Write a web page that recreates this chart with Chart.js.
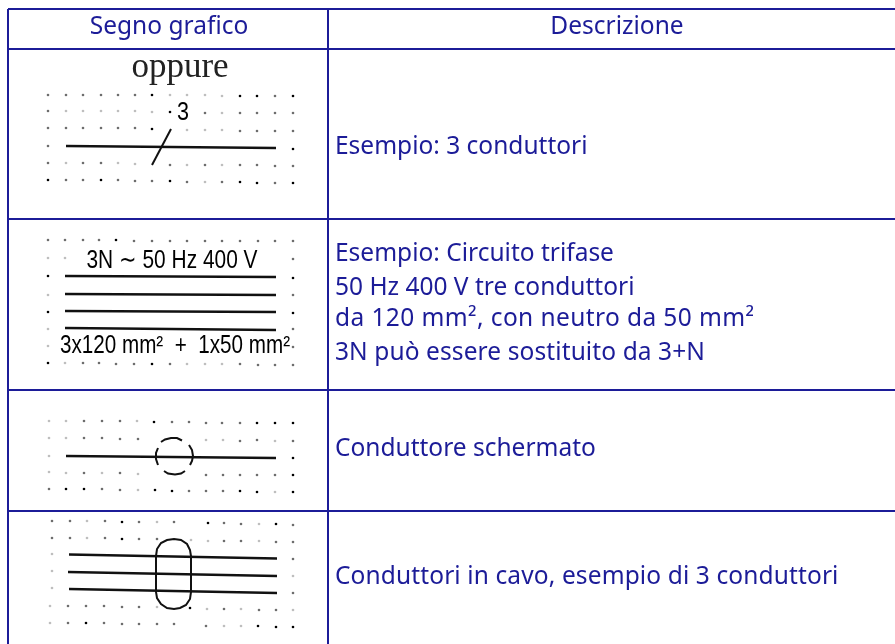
<!DOCTYPE html>
<html><head><meta charset="utf-8">
<style>html,body{margin:0;padding:0;background:#fff}#w{width:895px;height:644px;position:relative}canvas{display:block;filter:blur(.45px)}</style>
<script src="https://cdn.jsdelivr.net/npm/chart.js@4"></script></head>
<body><div id="w"><canvas id="c" width="895" height="644"></canvas></div>
<script>
// table rules
const ruleTop=[[8,9],[895,9]];
const ruleHeader=[[8,49],[895,49]];
const ruleRow1=[[8,219],[895,219]];
const ruleRow2=[[8,390],[895,390]];
const ruleRow3=[[8,511],[895,511]];
const ruleLeft=[[8,9],[8,644]];
const ruleColumn=[[328,9],[328,644]];
// symbol strokes
const wires1=[[66,146],[276,148]];
const slash1=[[152,165],[171,129]];
const wires2a=[[65,276],[276,277]];
const wires2b=[[65,294],[276,295]];
const wires2c=[[65,311],[276,312]];
const wires2d=[[65,328],[276,330]];
const wire3=[[66,456],[276,458]];
const dashTop=[[161,442],[165,439.5],[171,438],[177,438],[182,440.5]];
const dashRight=[[189,445],[192,450],[193,456],[192,461],[190,465]];
const dashBottom=[[164,471],[168,473.5],[175,474.5],[181,473.5],[185,471]];
const dashLeft=[[158,448],[156,453],[156,459],[158,465]];
const wire4a=[[69,554.5],[277,558.5]];
const wire4b=[[68,572],[277,576]];
const wire4c=[[69,589],[277,593]];
const capsule=[[156,556],[157,549],[161,543],[167,540],[174,539],[181,540],[187,544],[190,550],[191,556],[191,592],[190,599],[186,605],[180,608],[174,609],[167,608],[161,604],[157,598],[156,592],[156,556]];
// grid dots [x,y,shade]
const dots1=[[48,95,1],[66,95,1],[83,95,1],[101,95,1],[118,95,1],[135,95,1],[152,95,2],[170,95,0],[187,95,0],[205,95,0],[222,96,0],[240,96,2],[257,96,2],[275,96,1],[293,96,2],
[48,111,1],[66,111,0],[83,111,0],[101,111,0],[118,111,0],[135,111,0],[152,112,0],[170,112,2],[205,113,1],[222,113,0],[240,113,1],[257,113,1],[275,113,1],[293,113,1],
[48,128,1],[66,128,1],[83,128,1],[101,128,1],[118,128,1],[135,128,1],[152,129,2],[187,130,0],[205,130,0],[222,130,0],[240,131,1],[257,131,1],[275,131,1],[293,131,1],
[48,146,1],[293,149,2],
[48,163,1],[66,163,0],[83,163,1],[101,163,1],[118,163,0],[135,164,0],[170,165,1],[187,165,0],[205,165,1],[222,165,0],[240,165,1],[257,165,1],[275,166,1],[293,166,1],
[48,180,2],[66,180,1],[83,180,1],[101,180,2],[118,180,1],[135,181,1],[152,181,1],[170,181,2],[187,182,1],[205,182,0],[222,182,1],[240,182,2],[257,183,2],[275,183,1],[293,183,2]];
const dots2=[[48,240,1],[65,240,1],[83,240,1],[99,240,1],[116,240,2],[134,241,1],[152,241,1],[170,241,1],[187,241,1],[205,241,1],[222,241,1],[240,241,1],[258,241,1],[275,241,1],[293,241,1],
[48,258,0],[65,258,0],[293,259,1],
[48,276,2],[293,278,2],
[48,295,0],[293,295,1],
[48,312,2],[293,313,2],
[48,329,0],[293,329,1],
[48,346,0],[293,347,1],
[48,363,2],[65,363,0],[83,363,1],[99,363,1],[116,364,1],[134,364,1],[152,364,2],[170,364,1],[187,364,0],[205,364,0],[222,364,0],[240,364,1],[258,365,1],[275,365,1],[293,365,1]];
const dots3=[[49,421,0],[66,421,0],[84,421,1],[102,421,1],[120,421,1],[137,421,0],[154,422,2],[172,422,1],[189,422,1],[206,423,1],[222,423,1],[240,423,1],[257,423,2],[275,423,2],[293,423,2],
[49,438,0],[66,438,0],[84,438,1],[102,438,1],[120,439,1],[138,439,1],[206,440,0],[223,440,0],[240,441,1],[257,440,1],[275,441,0],[293,441,1],
[49,456,0],[293,458,2],
[49,472,0],[66,473,0],[84,473,1],[102,473,0],[120,473,1],[138,474,0],[206,475,1],[223,475,1],[240,475,1],[257,475,1],[275,475,1],[293,475,2],
[49,489,1],[66,489,2],[84,489,2],[102,489,1],[120,490,1],[138,490,0],[155,490,2],[172,491,2],[189,491,1],[206,491,1],[223,491,1],[240,491,2],[257,492,2],[275,492,0],[293,492,2]];
const dots4=[[52,521,1],[70,521,1],[87,521,0],[105,521,1],[122,522,2],[139,522,1],[157,522,0],[174,522,1],[208,523,2],[224,523,1],[241,524,1],[259,524,0],[276,524,2],[293,525,1],
[52,538,1],[70,538,1],[87,538,0],[105,538,1],[122,539,2],[139,539,1],[157,539,1],[191,540,0],[208,541,0],[224,541,1],[241,541,1],[259,541,0],[276,542,1],[293,542,1],
[52,554,0],[293,559,1],
[52,571,0],[293,576,0],
[52,588,0],[293,593,1],
[50,606,0],[68,606,1],[86,606,1],[104,606,1],[122,607,1],[139,607,1],[157,607,0],[190,608,2],[207,609,0],[224,609,1],[241,609,0],[259,610,1],[276,610,1],[293,610,0],
[50,623,0],[68,623,1],[86,623,2],[104,623,1],[122,624,1],[139,624,1],[157,624,1],[174,624,1],[206,626,1],[224,626,0],[241,626,0],[258,626,2],[276,627,2],[293,627,2]];
// text [string,x,y,letter spacing]
const headers=[["Segno grafico",169,27],["Descrizione",617,27]];
const descriptions=[["Esempio: 3 conduttori",335,147,0],["Esempio: Circuito trifase",335,254,0],["50 Hz 400 V tre conduttori",335,288,0],["da 120 mm², con neutro da 50 mm²",335,319,0.4],["3N può essere sostituito da 3+N",335,353,0.1],["Conduttore schermato",335,449,0],["Conduttori in cavo, esempio di 3 conduttori",335,577,0.12]];
const symbolLabels=[["3N ∼ 50 Hz 400 V",172,261,171],["3x120 mm²  +  1x50 mm²",175,346,230],["3",183,113,12]];
const serifLabels=[["oppure",180,68]];

const pts=a=>a.map(p=>({x:p[0],y:p[1],s:p[2]}));
const navy="#1c1c98", ink="#111";
const shade=["rgba(40,40,40,.3)","rgba(30,30,30,.65)","rgba(0,0,0,1)"];
const ln=(a,color,w)=>({type:'line',data:pts(a),borderColor:color,borderWidth:w,pointRadius:0,showLine:true,fill:false,tension:0});
const dt=a=>({type:'scatter',data:pts(a),showLine:false,pointRadius:1.3,pointBorderWidth:0,pointBackgroundColor:c=>shade[c.raw.s]});
const textPlugin={id:'text',afterDraw(ch){
  const g=ch.ctx,X=ch.scales.x,Y=ch.scales.y;
  g.save();g.textBaseline='middle';g.textAlign='center';g.fillStyle=navy;
  g.font='24.5px "Noto Sans"';
  headers.forEach(t=>g.fillText(t[0],X.getPixelForValue(t[1]),Y.getPixelForValue(t[2])));
  g.textAlign='left';
  descriptions.forEach(t=>{g.letterSpacing=t[3]+'px';g.fillText(t[0],X.getPixelForValue(t[1]),Y.getPixelForValue(t[2]));});
  g.letterSpacing='0px';
  g.textAlign='center';g.fillStyle='#000';
  g.font='26px "Liberation Sans"';
  symbolLabels.forEach(t=>g.fillText(t[0],X.getPixelForValue(t[1]),Y.getPixelForValue(t[2]),t[3]));
  g.font='35px "Liberation Serif"';g.fillStyle='#222';
  serifLabels.forEach(t=>g.fillText(t[0],X.getPixelForValue(t[1]),Y.getPixelForValue(t[2])));
  g.restore();
}};
new Chart(document.getElementById('c'),{
  type:'scatter',
  data:{datasets:[
    ...[ruleTop,ruleHeader,ruleRow1,ruleRow2,ruleRow3,ruleLeft,ruleColumn].map(a=>ln(a,navy,2)),
    ...[dots1,dots2,dots3,dots4].map(dt),
    ...[wires1,wires2a,wires2b,wires2c,wires2d,wire3,wire4a,wire4b,wire4c].map(a=>ln(a,ink,2.3)),
    ...[slash1,dashTop,dashRight,dashBottom,dashLeft,capsule].map(a=>ln(a,ink,2))
  ]},
  options:{responsive:false,animation:false,layout:{padding:0,autoPadding:false},
    plugins:{legend:{display:false},tooltip:{enabled:false},title:{display:false}},
    scales:{x:{type:'linear',min:0,max:895,display:false},y:{type:'linear',min:0,max:644,reverse:true,display:false}}},
  plugins:[textPlugin]
});
</script></body></html>
